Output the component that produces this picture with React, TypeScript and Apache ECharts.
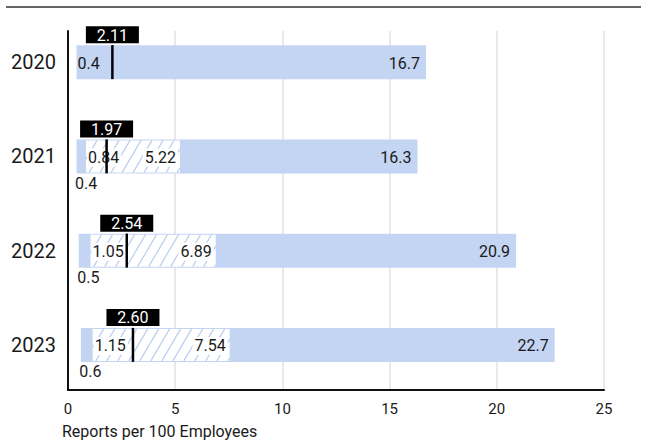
import React, { useEffect, useRef } from "react";
import * as echarts from "echarts";

const years = ["2020", "2021", "2022", "2023"];
const lowValues = [0.4, 0.4, 0.5, 0.6];
const highValues = [16.7, 16.3, 20.9, 22.7];
const q1Values: (number | null)[] = [null, 0.84, 1.05, 1.15];
const q3Values: (number | null)[] = [null, 5.22, 6.89, 7.54];
const medianLabels = ["2.11", "1.97", "2.54", "2.60"];
// marker positions
const medianMarkers = [2.07, 1.8, 2.74, 3.03];
const xTicks = { min: 0, max: 25, interval: 5 };
const axisTitle = "Reports per 100 Employees";

const FONT = "Roboto";
const BAR_COLOR = "#c4d4f3";
const TEXT = "#1a1a1a";

export default function App() {
  const ref = useRef<HTMLDivElement>(null);
  useEffect(() => {
    if (!ref.current) return;
    const chart = echarts.init(ref.current, undefined, { renderer: "svg" });
    const renderItem = (params: any, api: any) => {
      const i = params.dataIndex;
      const cy = api.coord([0, i])[1];
      const xLow = api.coord([lowValues[i], i])[0];
      const xHigh = api.coord([highValues[i], i])[0];
      const barH = 34;
      const top = cy - barH / 2;
      const bottom = cy + barH / 2;
      const children: any[] = [];
      children.push({
        type: "rect",
        shape: { x: xLow, y: top, width: xHigh - xLow, height: barH },
        style: { fill: BAR_COLOR },
      });
      children.push({
        type: "text",
        style: {
          text: String(highValues[i]),
          x: xHigh - 6,
          y: cy + 1,
          align: "right",
          verticalAlign: "middle",
          fill: TEXT,
          font: `16px ${FONT}`,
        },
      });
      const q1 = q1Values[i];
      const q3 = q3Values[i];
      if (q1 == null || q3 == null) {
        children.push({
          type: "text",
          style: {
            text: String(lowValues[i]),
            x: xLow + 1,
            y: cy + 1,
            align: "left",
            verticalAlign: "middle",
            fill: TEXT,
            font: `16px ${FONT}`,
          },
        });
      } else {
        children.push({
          type: "text",
          style: {
            text: String(lowValues[i]),
            x: xLow - 1.5,
            y: bottom + 10,
            align: "left",
            verticalAlign: "middle",
            fill: TEXT,
            font: `16px ${FONT}`,
          },
        });
        const x0 = api.coord([q1, i])[0];
        const x1 = api.coord([q3, i])[0];
        const hy0 = top + 1;
        const hy1 = bottom - 1;
        const h = hy1 - hy0;
        children.push({
          type: "rect",
          shape: { x: x0, y: hy0, width: x1 - x0, height: h },
          style: { fill: "#ffffff" },
        });
        const k = 1.7;
        const span = h / k;
        const step = 11;
        for (let xs = x0 - span; xs < x1; xs += step) {
          const tA = Math.max(0, x0 - xs);
          const tB = Math.min(span, x1 - xs);
          if (tB <= tA) continue;
          children.push({
            type: "line",
            shape: {
              x1: xs + tA,
              y1: hy1 - k * tA,
              x2: xs + tB,
              y2: hy1 - k * tB,
            },
            style: { stroke: "#bccdf0", lineWidth: 1.2 },
          });
        }
        children.push({
          type: "text",
          style: {
            text: String(q1),
            x: x0 + 1,
            y: cy + 1,
            align: "left",
            verticalAlign: "middle",
            fill: TEXT,
            font: `16px ${FONT}`,
            backgroundColor: "#ffffff",
            padding: [1, 2, 1, 1],
          },
        });
        children.push({
          type: "text",
          style: {
            text: q3.toFixed(2),
            x: x1 - 2,
            y: cy + 1,
            align: "right",
            verticalAlign: "middle",
            fill: TEXT,
            font: `16px ${FONT}`,
            backgroundColor: "#ffffff",
            padding: [1, 2, 1, 2],
          },
        });
      }
      const xm = api.coord([medianMarkers[i], i])[0];
      children.push({
        type: "line",
        shape: { x1: xm, y1: top, x2: xm, y2: bottom },
        style: { stroke: "#000", lineWidth: 2.5 },
      });
      children.push({
        type: "rect",
        shape: { x: xm - 26.5, y: top - 19, width: 53, height: 17 },
        style: { fill: "#000" },
      });
      children.push({
        type: "text",
        style: {
          text: medianLabels[i],
          x: xm,
          y: top - 10,
          align: "center",
          verticalAlign: "middle",
          fill: "#fff",
          font: `16px ${FONT}`,
        },
      });
      return { type: "group", children };
    };

    chart.setOption({
      animation: false,
      textStyle: { fontFamily: FONT },
      grid: [
        { left: 68, right: 43, top: 31, bottom: 50 },
        { left: 68, right: 43, top: 15, bottom: 48 },
      ],
      xAxis: [
        {
          gridIndex: 0,
          type: "value",
          min: xTicks.min,
          max: xTicks.max,
          interval: xTicks.interval,
          axisLine: { show: true, lineStyle: { color: "#111", width: 2 } },
          axisTick: { show: false },
          axisLabel: { fontSize: 15, color: TEXT, margin: 11, fontFamily: FONT },
          splitLine: { show: true, lineStyle: { color: "#e2e2e2", width: 1.5 } },
        },
        {
          gridIndex: 1,
          type: "value",
          min: xTicks.min,
          max: xTicks.max,
          show: false,
        },
      ],
      yAxis: [
        {
          gridIndex: 0,
          type: "value",
          axisLine: { show: true, lineStyle: { color: "#111", width: 2 } },
          axisTick: { show: false },
          axisLabel: { show: false },
          splitLine: { show: false },
        },
        {
          gridIndex: 1,
          type: "category",
          inverse: true,
          data: years,
          axisLine: { show: false },
          axisTick: { show: false },
          splitLine: { show: false },
          axisLabel: { fontSize: 20, color: TEXT, margin: 12, fontFamily: FONT },
        },
      ],
      series: [
        {
          type: "custom",
          xAxisIndex: 1,
          yAxisIndex: 1,
          renderItem,
          encode: { x: [1, 2], y: 0 },
          data: years.map((_, i) => [i, lowValues[i], highValues[i]]),
          clip: false,
        },
      ],
      graphic: [
        {
          type: "line",
          shape: { x1: 6, y1: 7, x2: 641, y2: 7 },
          style: { stroke: "#666", lineWidth: 2 },
        },
        {
          type: "text",
          left: 62,
          top: 423,
          style: { text: axisTitle, font: `16px ${FONT}`, fill: TEXT },
        },
      ],
    });
    return () => chart.dispose();
  }, []);
  return (
    <div
      ref={ref}
      style={{ position: "absolute", left: 0, top: 0, width: 647, height: 440 }}
    />
  );
}
